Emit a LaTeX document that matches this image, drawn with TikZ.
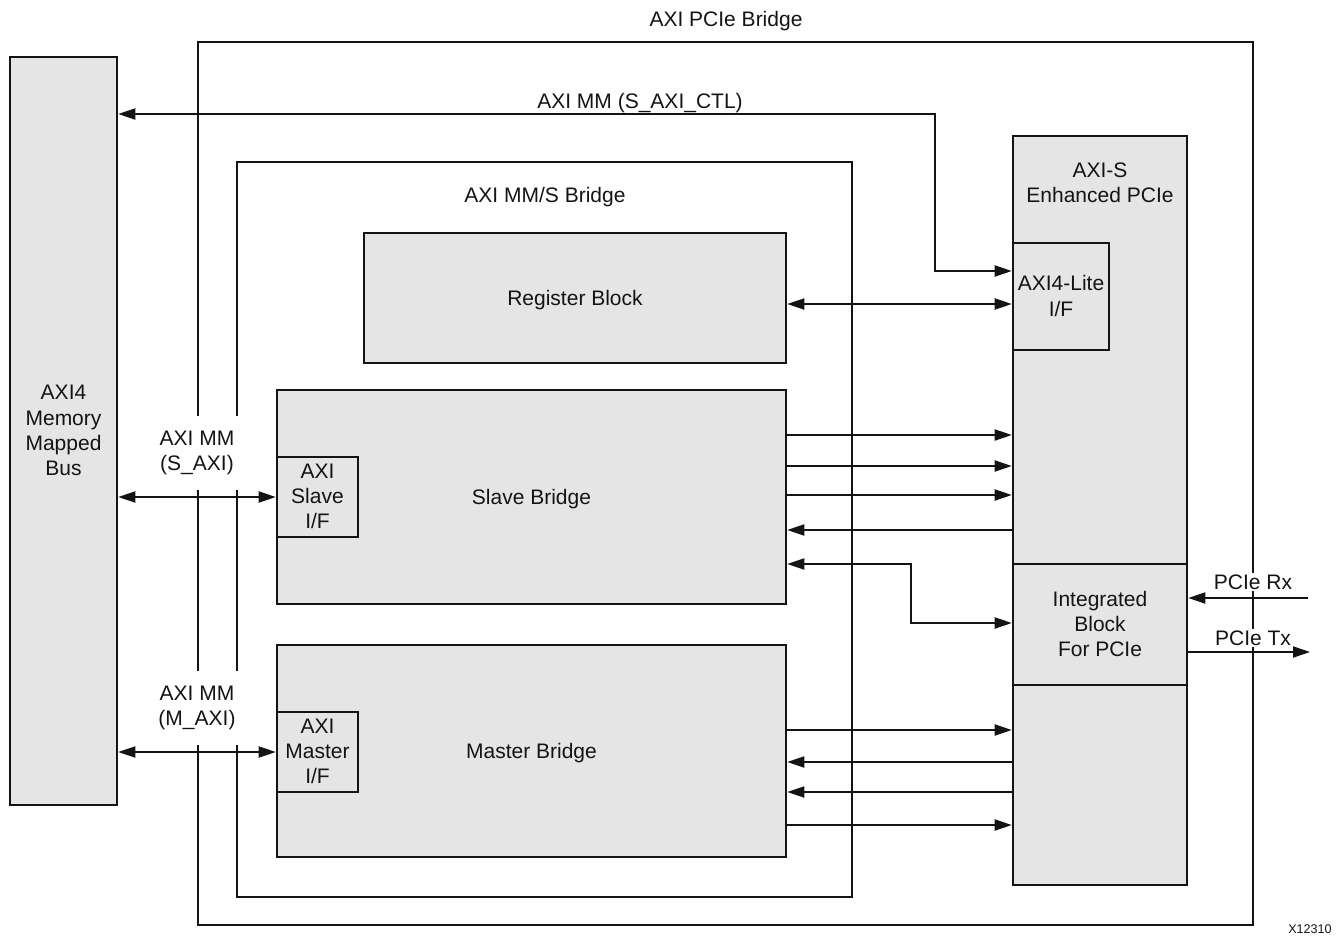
\documentclass[tikz,border=0pt]{standalone}
\usepackage{fontspec}
\setmainfont{Liberation Sans}
\usetikzlibrary{arrows.meta,fit}
\definecolor{boxgray}{RGB}{230,229,230}
\definecolor{ink}{RGB}{20,20,20}
\newcommand\txtfont{\fontsize{10.5}{12.6}\selectfont}
\begin{document}
\begin{tikzpicture}[x=0.5pt,y=-0.5pt,
  frame/.style={draw=ink, line width=1.3pt, inner sep=0pt},
  box/.style={draw=ink, line width=1.3pt, fill=boxgray, inner sep=0pt, align=center, font=\txtfont, text=ink, text depth=0.6pt},
  lbl/.style={align=center, font=\txtfont, text=ink, inner sep=1pt},
  wlbl/.style={lbl, fill=white},
  arr/.style={draw=ink, line width=0.65pt, -{Triangle[length=8.5pt,width=5.6pt]}},
  darr/.style={draw=ink, line width=0.65pt, {Triangle[length=8.5pt,width=5.6pt]}-{Triangle[length=8.5pt,width=5.6pt]}}]
\useasboundingbox (0,0) rectangle (1338,942);
% frames
\node[frame, fit={(198,42) (1253,925)}] (outer) {};
\node[frame, fit={(237,162) (852,897)}] (mms) {};
\node[lbl] (outerl) at (726,21) {AXI PCIe Bridge};
\node[lbl] (mmsl) at (545,197) {AXI MM/S Bridge};
% blocks
\node[box, minimum width=53.5pt, minimum height=374pt] (bus) at (63.5,431) {AXI4\\Memory\\Mapped\\Bus};
\node[box, minimum width=211pt, minimum height=65pt] (reg) at (575,298) {Register Block};
\node[box, minimum width=254.5pt, minimum height=107pt] (slave) at (531.5,497) {Slave Bridge};
\node[box, minimum width=40.5pt, minimum height=40pt] (sif) at (317.5,497) {AXI\\Slave\\I/F};
\node[box, minimum width=254.5pt, minimum height=106pt] (master) at (531.5,751) {Master Bridge};
\node[box, minimum width=40.5pt, minimum height=40pt] (mif) at (317.5,752) {AXI\\Master\\I/F};
\node[box, minimum width=87pt, minimum height=374.5pt] (axis) at (1100,510.5) {};
\node[lbl] (axisl) at (1100,183) {AXI-S\\Enhanced PCIe};
\node[box, minimum width=48pt, minimum height=53.5pt] (lite) at (1061,296.5) {AXI4-Lite\\I/F};
\node[box, minimum width=87pt, minimum height=60.5pt] (ib) at (1100,624.5) {Integrated\\Block\\For PCIe};
% interface labels covering frame edges
\node[wlbl, minimum width=50pt, minimum height=37pt] (sl) at (197,453) {AXI MM\\(S\_AXI)};
\node[wlbl, minimum width=50pt, minimum height=37pt] (ml) at (197,708) {AXI MM\\(M\_AXI)};
\node[wlbl] (rxl) at (1253,582) {PCIe Rx};
\node[wlbl] (txl) at (1253,638) {PCIe Tx};
\node[lbl] (ctll) at (640,103) {AXI MM (S\_AXI\_CTL)};
\node[lbl, font=\fontsize{6.3}{7.5}\selectfont] (fig) at (1310,929) {X12310};
% connectors
\coordinate (c1) at (935,114);
\coordinate (c2) at (935,271);
\draw[darr] (bus.east |- c1) -- (c1) -- (c2) -- (lite.west |- c2);
\draw[darr] (reg.east |- 0,304) -- (lite.west |- 0,304);
\draw[darr] (bus.east |- sif.west) -- (sif.west);
\draw[darr] (bus.east |- mif.west) -- (mif.west);
\draw[arr] (slave.east |- 0,435) -- (axis.west |- 0,435);
\draw[arr] (slave.east |- 0,466) -- (axis.west |- 0,466);
\draw[arr] (slave.east |- 0,495) -- (axis.west |- 0,495);
\draw[arr] (axis.west |- 0,530) -- (slave.east |- 0,530);
\coordinate (c3) at (911,564);
\coordinate (c4) at (911,623);
\draw[darr] (slave.east |- c3) -- (c3) -- (c4) -- (ib.west |- c4);
\draw[arr] (master.east |- 0,730) -- (axis.west |- 0,730);
\draw[arr] (axis.west |- 0,762) -- (master.east |- 0,762);
\draw[arr] (axis.west |- 0,792) -- (master.east |- 0,792);
\draw[arr] (master.east |- 0,825) -- (axis.west |- 0,825);
\coordinate (rxin) at (1308,598);
\coordinate (txout) at (1310,652);
\draw[arr] (rxin) -- (ib.east |- rxin);
\draw[arr] (ib.east |- txout) -- (txout);
\end{tikzpicture}
\end{document}
